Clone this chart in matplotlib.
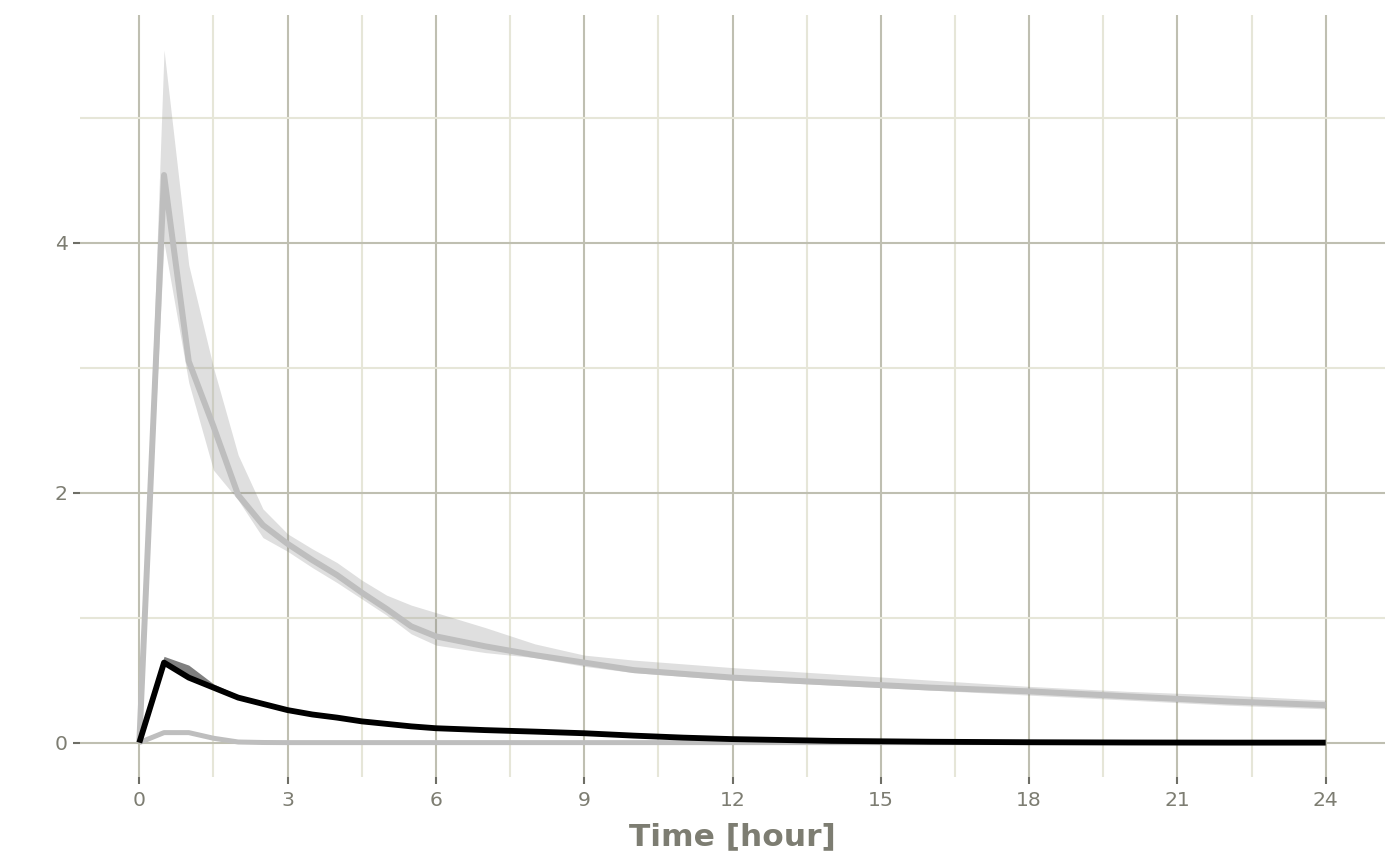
import matplotlib
matplotlib.use("Agg")
import matplotlib.pyplot as plt
from matplotlib.ticker import MultipleLocator

time_h = [0, 0.5, 1, 1.5, 2, 2.5, 3, 3.5, 4, 4.5, 5, 5.5, 6, 7, 8, 9, 10, 11, 12, 14, 16, 18, 20, 22, 24]

grey_median = [0, 4.54, 3.05, 2.53, 1.98, 1.74, 1.59, 1.46, 1.34, 1.20, 1.07, 0.93, 0.85, 0.77, 0.70,
               0.64, 0.58, 0.55, 0.52, 0.48, 0.44, 0.41, 0.37, 0.33, 0.30]
grey_upper = [0, 5.54, 3.82, 3.00, 2.30, 1.87, 1.67, 1.55, 1.44, 1.30, 1.18, 1.10, 1.04, 0.92, 0.79,
              0.70, 0.66, 0.63, 0.60, 0.55, 0.50, 0.45, 0.41, 0.38, 0.34]
grey_lower = [0, 4.00, 2.88, 2.18, 1.94, 1.64, 1.53, 1.40, 1.28, 1.15, 1.02, 0.87, 0.78, 0.72, 0.68,
              0.61, 0.56, 0.53, 0.50, 0.46, 0.42, 0.38, 0.34, 0.30, 0.27]

black_median = [0, 0.64, 0.52, 0.44, 0.36, 0.31, 0.26, 0.225, 0.20, 0.17, 0.15, 0.13, 0.115, 0.10, 0.088,
                0.075, 0.056, 0.04, 0.028, 0.014, 0.007, 0.003, 0.001, 0, 0]
black_upper = [0, 0.69, 0.62, 0.47, 0.38, 0.33, 0.27, 0.235, 0.21, 0.18, 0.16, 0.14, 0.125, 0.11, 0.098,
               0.085, 0.066, 0.05, 0.038, 0.022, 0.013, 0.008, 0.005, 0.003, 0.002]
black_lower = [0, 0.63, 0.51, 0.43, 0.35, 0.30, 0.25, 0.215, 0.19, 0.16, 0.14, 0.12, 0.105, 0.09, 0.078,
               0.065, 0.046, 0.03, 0.018, 0.008, 0.003, 0.001, 0, 0, 0]

low_grey = [0, 0.08, 0.08, 0.035, 0.005, 0.001, 0, 0, 0, 0, 0, 0, 0, 0, 0,
            0, 0, 0, 0, 0, 0, 0, 0, 0, 0]

x_ticks = [0, 3, 6, 9, 12, 15, 18, 21, 24]
y_ticks = [0, 2, 4]

major_grid = "#bfbfb1"
minor_grid = "#e6e6d8"
text_col = "#7d7d72"
tick_col = "#6e6e66"

fig = plt.figure(figsize=(14, 8.65), dpi=100)
ax = fig.add_axes([80 / 1400, 1 - 777 / 865, 1305 / 1400, 762 / 865])

ax.set_xlim(-1.2, 25.2)
ax.set_ylim(-0.275, 5.82)
ax.set_xticks(x_ticks)
ax.set_yticks(y_ticks)
ax.xaxis.set_minor_locator(MultipleLocator(1.5))
ax.yaxis.set_minor_locator(MultipleLocator(1))

ax.set_axisbelow(True)
ax.grid(True, which="major", color=major_grid, linewidth=1.5)
ax.grid(True, which="minor", color=minor_grid, linewidth=1.5)
for s in ax.spines.values():
    s.set_visible(False)

ax.tick_params(axis="both", which="major", length=5, width=1.5, color=tick_col,
               labelcolor=text_col, labelsize=14.7, pad=5)
ax.tick_params(axis="y", which="major", pad=4)
ax.tick_params(axis="both", which="minor", length=0)

ax.fill_between(time_h, grey_lower, grey_upper, color="grey", alpha=0.25, linewidth=0)
ax.plot(time_h, grey_median, color="#bebebe", linewidth=4.3, solid_capstyle="butt")
ax.plot(time_h, low_grey, color="#bebebe", linewidth=3.6, solid_capstyle="butt")
ax.fill_between(time_h, black_lower, black_upper, color="black", alpha=0.5, linewidth=0)
ax.plot(time_h, black_median, color="black", linewidth=4.2, solid_capstyle="butt")

ax.set_xlabel("Time [hour]", fontsize=22.5, fontweight="bold", color=text_col, labelpad=9)

fig.savefig("out.png", dpi=100)
